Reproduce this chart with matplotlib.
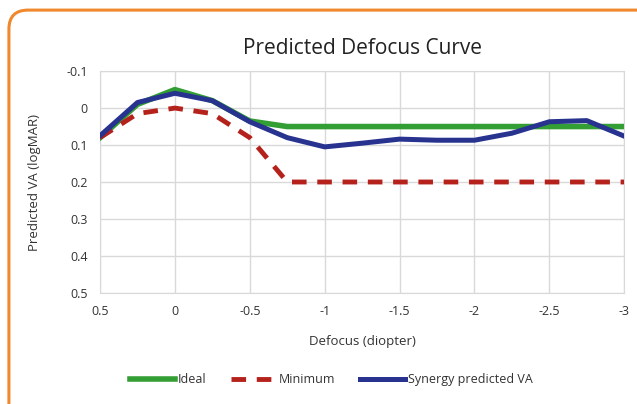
import matplotlib.pyplot as plt
from matplotlib.patches import FancyBboxPatch
from matplotlib.ticker import FuncFormatter

# data
defocus = [0.5, 0.25, 0, -0.25, -0.5, -0.75, -1, -1.25, -1.5, -1.75, -2, -2.25, -2.5, -2.75, -3]
ideal = [0.08, -0.01, -0.05, -0.02, 0.035, 0.05, 0.05, 0.05, 0.05, 0.05, 0.05, 0.05, 0.05, 0.05, 0.05]
minimum = [0.08, 0.015, 0.0, 0.015, 0.08, 0.2, 0.2, 0.2, 0.2, 0.2, 0.2, 0.2, 0.2, 0.2, 0.2]
synergy = [0.075, -0.015, -0.04, -0.02, 0.037, 0.08, 0.105, 0.095, 0.084, 0.087, 0.087, 0.068, 0.037, 0.034, 0.076]

x_ticks = [0.5, 0, -0.5, -1, -1.5, -2, -2.5, -3]
y_ticks = [-0.1, 0, 0.1, 0.2, 0.3, 0.4, 0.5]

plt.rcParams['font.family'] = ['Open Sans', 'DejaVu Sans']

fig = plt.figure(figsize=(6.37, 4.04), dpi=100)

# orange rounded frame
frame = FancyBboxPatch((0.014, -0.05), 1.2, 1.025, boxstyle='round,pad=0,rounding_size=0.03',
                       transform=fig.transFigure, facecolor='white', edgecolor='#f0892e',
                       linewidth=2.2, zorder=-1, mutation_aspect=637/404)
fig.patches.append(frame)

ax = fig.add_axes([0.157, 0.275, 0.823, 0.549])
ax.plot(defocus, ideal, color='#339e33', lw=4, label='Ideal', zorder=3)
ax.plot(defocus, minimum, color='#b5221c', lw=3.5, ls=(0, (3, 2.2)), label='Minimum', zorder=3)
ax.plot(defocus, synergy, color='#27338f', lw=3.6, label='Synergy predicted VA', zorder=4)

ax.set_xlim(0.5, -3)
ax.set_ylim(0.5, -0.1)
ax.set_xticks(x_ticks)
ax.set_yticks(y_ticks)
fmt = FuncFormatter(lambda v, p: '%g' % round(v, 2) if abs(v) > 1e-9 else '0')
ax.xaxis.set_major_formatter(fmt)
ax.yaxis.set_major_formatter(fmt)
ax.grid(True, color='#d9d9d9', lw=1)
ax.set_axisbelow(True)
for s in ax.spines.values():
    s.set_color('#d9d9d9')
ax.tick_params(length=0, labelsize=9, colors='#333333', pad=9)

ax.set_title('Predicted Defocus Curve', fontsize=15, color='#222222', pad=12)
ax.set_xlabel('Defocus (diopter)', fontsize=9.5, color='#333333', labelpad=12)
ax.set_ylabel('Predicted VA (logMAR)', fontsize=9.5, color='#333333', labelpad=18)

fig.legend(loc='center', bbox_to_anchor=(0.52, 0.06), ncol=3, frameon=False,
           fontsize=9, handlelength=3.6, handletextpad=0.2, columnspacing=2.0,
           labelcolor='#333333')

fig.savefig('out.png', dpi=100)
